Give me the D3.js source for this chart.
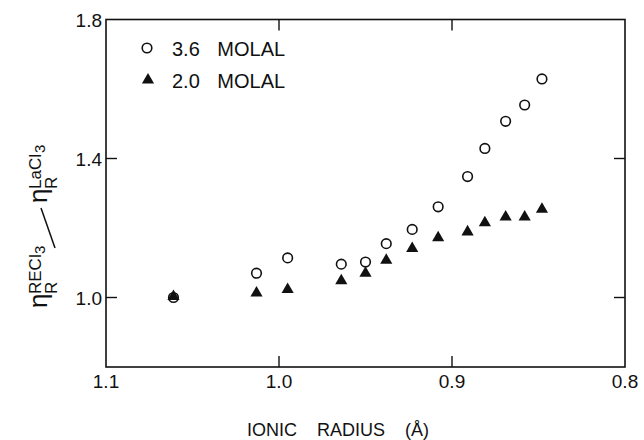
<!DOCTYPE html>
<html>
<head>
<meta charset="utf-8">
<script src="https://cdn.jsdelivr.net/npm/d3@7"></script>
<style>
body{margin:0;background:#fff;}
svg text{font-family:"Liberation Sans",Arial,sans-serif;fill:#111;}
</style>
</head>
<body>
<svg id="vis" width="644" height="440"></svg>
<script>
// ionic radius (A) of each rare earth, La .. Lu
var radius=[1.061,1.013,0.995,0.964,0.950,0.938,0.923,0.908,0.891,0.881,0.869,0.858,0.848];
// relative viscosity ratio, 3.6 molal
var molal36=[1.000,1.070,1.114,1.096,1.102,1.155,1.196,1.261,1.348,1.429,1.507,1.554,1.629];
// relative viscosity ratio, 2.0 molal
var molal20=[1.000,1.010,1.020,1.045,1.067,1.104,1.138,1.169,1.186,1.212,1.229,1.229,1.251];
var xticks=[1.1,1.0,0.9,0.8];
var yticks=[1.0,1.4,1.8];
var xinner=[1.0,0.9];
var yinner=[1.0,1.4];

var pl=106,pr=625,pt=19.5,pb=367;
var svg=d3.select("svg#vis");
var x=d3.scaleLinear().domain([1.1,0.8]).range([pl,pr]);
var y=d3.scaleLinear().domain([0.8,1.8]).range([pb,pt]);

// frame
svg.append("rect")
	.attr("x",pl).attr("y",pt)
	.attr("width",pr-pl).attr("height",pb-pt)
	.attr("fill","none").attr("stroke","#111").attr("stroke-width",1.6);

// inward ticks on all four sides
var tl=11;
svg.selectAll(".xtb").data(xinner).enter().append("line")
	.attr("x1",x).attr("x2",x).attr("y1",pb).attr("y2",pb-tl)
	.attr("stroke","#111").attr("stroke-width",1.4);
svg.selectAll(".xtt").data(xinner).enter().append("line")
	.attr("x1",x).attr("x2",x).attr("y1",pt).attr("y2",pt+tl)
	.attr("stroke","#111").attr("stroke-width",1.4);
svg.selectAll(".ytl").data(yinner).enter().append("line")
	.attr("y1",y).attr("y2",y).attr("x1",pl).attr("x2",pl+tl)
	.attr("stroke","#111").attr("stroke-width",1.4);
svg.selectAll(".ytr").data(yinner).enter().append("line")
	.attr("y1",y).attr("y2",y).attr("x1",pr).attr("x2",pr-tl)
	.attr("stroke","#111").attr("stroke-width",1.4);

// tick labels
svg.selectAll(".xl").data(xticks).enter().append("text")
	.attr("x",x).attr("y",pb+21)
	.attr("text-anchor","middle").attr("font-size",19)
	.text(function(d){return d3.format(".1f")(d);});
svg.selectAll(".yl").data(yticks).enter().append("text")
	.attr("x",pl-4).attr("y",function(d){return y(d)+7;})
	.attr("text-anchor","end").attr("font-size",19)
	.text(function(d){return d3.format(".1f")(d);});

// x title
svg.append("text")
	.attr("x",338).attr("y",436)
	.attr("text-anchor","middle").attr("font-size",18)
	.attr("word-spacing","15px")
	.text("IONIC RADIUS (Å)");

// y title, rotated
var yt=svg.append("g").attr("transform","rotate(-90)");
function lab(u,v,size,txt){
	yt.append("text").attr("x",u).attr("y",v).attr("font-size",size).text(txt);
}
lab(-308,47,26,"η");
lab(-294,57,17,"R");
lab(-294,41,17,"RECl");
lab(-254,45,15,"3");
lab(-203,47,26,"η");
lab(-189,57,17,"R");
lab(-189,41,17,"LaCl");
lab(-153,45,15,"3");
svg.append("line")
	.attr("x1",55).attr("y1",248).attr("x2",41).attr("y2",208)
	.attr("stroke","#111").attr("stroke-width",1.5);

var tri=d3.symbol().type(d3.symbolTriangle).size(64);

// 3.6 molal, open circles
svg.selectAll(".c36").data(radius).enter().append("circle")
	.attr("cx",function(d){return x(d);})
	.attr("cy",function(d,i){return y(molal36[i]);})
	.attr("r",4.8)
	.attr("fill","none").attr("stroke","#111").attr("stroke-width",1.6);

// 2.0 molal, filled triangles
svg.selectAll(".t20").data(radius).enter().append("path")
	.attr("d",tri)
	.attr("transform",function(d,i){return "translate("+x(d)+","+(y(molal20[i])-1)+")";})
	.attr("fill","#111");

// legend
svg.append("circle").attr("cx",147).attr("cy",48).attr("r",4.8)
	.attr("fill","none").attr("stroke","#111").attr("stroke-width",1.6);
svg.append("path").attr("d",tri).attr("transform","translate(148,80)").attr("fill","#111");
svg.append("text").attr("x",172).attr("y",56).attr("font-size",20)
	.attr("word-spacing","12px").text("3.6 MOLAL");
svg.append("text").attr("x",172).attr("y",88).attr("font-size",20)
	.attr("word-spacing","12px").text("2.0 MOLAL");
</script>
</body>
</html>
